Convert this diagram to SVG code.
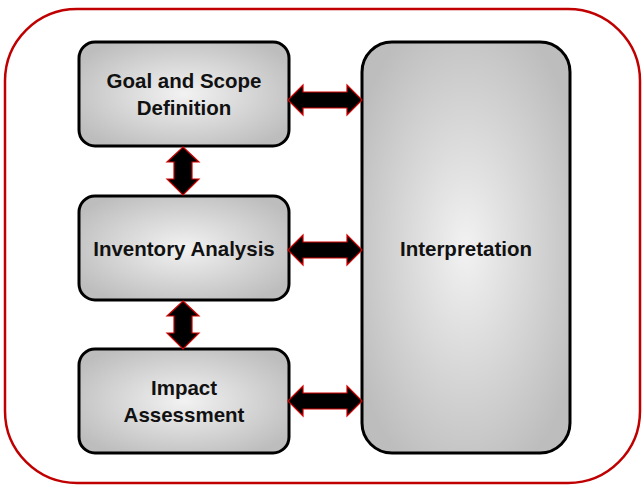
<svg xmlns="http://www.w3.org/2000/svg" width="642" height="485" viewBox="0 0 642 485">
<defs>
<radialGradient id="g" cx="50%" cy="50%" r="60%">
<stop offset="0" stop-color="#f2f2f2"/>
<stop offset="1" stop-color="#bdbdbd"/>
</radialGradient>
<style>
.box{fill:url(#g);stroke:#000;stroke-width:3}
.t{font-family:"Liberation Sans",Arial,sans-serif;font-weight:bold;font-size:20.5px;fill:#111;text-anchor:middle}
.arr{fill:#000;stroke:#d00000;stroke-width:1.2;stroke-linejoin:miter}
</style>
</defs>
<rect x="5" y="9" width="635" height="474" rx="72" ry="72" fill="#fff" stroke="#c00000" stroke-width="2.5"/>
<g id="goal">
<rect class="box" x="79" y="42" width="210" height="104" rx="16"/>
<text class="t" x="184" y="88">Goal and Scope</text>
<text class="t" x="184" y="115">Definition</text>
</g>
<g id="inventory">
<rect class="box" x="79" y="196" width="210" height="104" rx="16"/>
<text class="t" x="184" y="256">Inventory Analysis</text>
</g>
<g id="impact">
<rect class="box" x="79" y="349" width="210" height="104" rx="16"/>
<text class="t" x="184" y="395">Impact</text>
<text class="t" x="184" y="422">Assessment</text>
</g>
<g id="interpretation">
<rect class="box" x="362" y="42" width="208" height="411" rx="30"/>
<text class="t" x="466" y="256">Interpretation</text>
</g>
<g id="connectors">
<polygon class="arr" points="288,100 303,85 303,92 347,92 347,85 362,100 347,115 347,108 303,108 303,115"/>
<polygon class="arr" points="288,250 303,235 303,242 347,242 347,235 362,250 347,265 347,258 303,258 303,265"/>
<polygon class="arr" points="288,401 303,386 303,393 347,393 347,386 362,401 347,416 347,409 303,409 303,416"/>
<polygon class="arr" points="183,147 199,162 192,162 192,179 199,179 183,195 167,179 174,179 174,162 167,162"/>
<polygon class="arr" points="183,301 199,316 192,316 192,333 199,333 183,349 167,333 174,333 174,316 167,316"/>
</g>
</svg>
